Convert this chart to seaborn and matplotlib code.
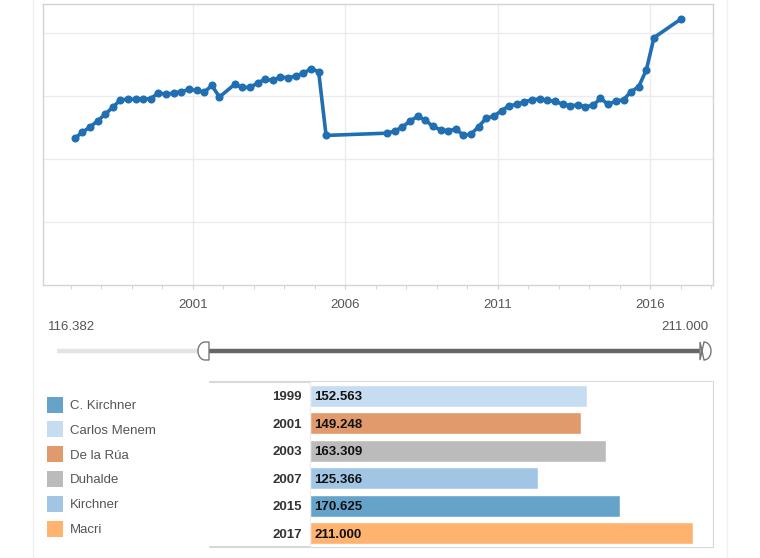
import numpy as np
import pandas as pd
import seaborn as sns
import matplotlib.pyplot as plt
import matplotlib.dates as mdates
from matplotlib.patches import Rectangle, Polygon

# quarterly index values (mid-quarter dates)
dates = [
    "1997-02-15", "1997-05-15", "1997-08-15", "1997-11-15",
    "1998-02-15", "1998-05-15", "1998-08-15", "1998-11-15",
    "1999-02-15", "1999-05-15", "1999-08-15", "1999-11-15",
    "2000-02-15", "2000-05-15", "2000-08-15", "2000-11-15",
    "2001-02-15", "2001-05-15", "2001-08-15", "2001-11-15",
    "2002-05-15", "2002-08-15", "2002-11-15",
    "2003-02-15", "2003-05-15", "2003-08-15", "2003-11-15",
    "2004-02-15", "2004-05-15", "2004-08-15", "2004-11-15",
    "2005-02-15", "2005-05-15",
    "2007-05-15", "2007-08-15", "2007-11-15",
    "2008-02-15", "2008-05-15", "2008-08-15", "2008-11-15",
    "2009-02-15", "2009-05-15", "2009-08-15", "2009-11-15",
    "2010-02-15", "2010-05-15", "2010-08-15", "2010-11-15",
    "2011-02-15", "2011-05-15", "2011-08-15", "2011-11-15",
    "2012-02-15", "2012-05-15", "2012-08-15", "2012-11-15",
    "2013-02-15", "2013-05-15", "2013-08-15", "2013-11-15",
    "2014-02-15", "2014-05-15", "2014-08-15", "2014-11-15",
    "2015-02-15", "2015-05-15", "2015-08-15", "2015-11-15",
    "2016-02-15", "2017-01-01",
]
values = [
    116.4, 121.1, 125.3, 130.1,
    135.6, 140.9, 146.8, 147.6,
    147.3, 147.6, 147.8, 152.6,
    151.3, 152.3, 153.4, 155.2,
    154.4, 152.8, 158.4, 149.2,
    159.2, 156.8, 156.8,
    160.3, 163.3, 162.4, 165.0,
    164.5, 165.8, 168.0, 171.7,
    169.3, 118.7,
    120.5, 122.1, 125.4,
    130.1, 133.8, 130.9, 125.8,
    123.2, 122.4, 123.7, 118.9,
    119.7, 125.6, 132.4, 134.0,
    138.3, 142.3, 143.3, 145.4,
    147.0, 147.6, 146.5, 145.7,
    143.6, 142.3, 142.8, 141.5,
    142.5, 148.1, 143.3, 146.0,
    147.0, 153.4, 157.3, 170.6,
    196.3, 211.0,
]
tick_years = [2001, 2006, 2011, 2016]

# end-of-term values per president
bar_years = ["1999", "2001", "2003", "2007", "2015", "2017"]
bar_values = [152.563, 149.248, 163.309, 125.366, 170.625, 211.000]
bar_pres = ["Carlos Menem", "De la Rúa", "Duhalde", "Kirchner", "C. Kirchner", "Macri"]

legend_names = ["C. Kirchner", "Carlos Menem", "De la Rúa", "Duhalde", "Kirchner", "Macri"]
legend_colors = ["#65a3ca", "#c6dcf1", "#e09a6c", "#bbbbbb", "#a1c6e5", "#feb36f"]
palette = dict(zip(legend_names, legend_colors))

range_min, range_max = 116.382, 211.000

sns.set_style("white")
plt.rcParams["font.family"] = ["Liberation Sans", "DejaVu Sans"]

df = pd.DataFrame({"date": pd.to_datetime(dates), "value": values})
bars = pd.DataFrame({"year": bar_years, "value": bar_values, "president": bar_pres})

fig = plt.figure(figsize=(7.6, 5.58), dpi=100)
W, H = 760, 558

# overlay for page decorations, slider and legend (pixel coordinates)
ov = fig.add_axes([0, 0, 1, 1])
ov.set_xlim(0, W)
ov.set_ylim(H, 0)
ov.axis("off")
for xe in (33, 727):
    ov.plot([xe, xe], [0, H], color="#f0f0f0", lw=1)

# line chart
ax = fig.add_axes([43 / W, (H - 285) / H, 670 / W, 281 / H])
sns.lineplot(data=df, x="date", y="value", marker="o", color="#1f6fb2",
             linewidth=2.6, markersize=5.8, markeredgewidth=0, ax=ax)
ax.set_ylim(0, 223)
ax.set_yticks([50, 100, 150, 200])
ax.set_yticklabels([])
ax.set_xlim(pd.Timestamp("1996-02-01"), pd.Timestamp("2018-01-22"))
ax.set_xticks([pd.Timestamp(f"{y}-01-01") for y in tick_years])
ax.set_xticklabels([str(y) for y in tick_years])
ax.xaxis.set_minor_locator(mdates.YearLocator(1))
ax.grid(True, color="#ebebeb", lw=1)
ax.tick_params(axis="y", left=False, length=0)
ax.tick_params(axis="x", which="both", bottom=True, length=3, color="#cccccc",
               labelsize=9.5, labelcolor="#555555", pad=7)
ax.set_xlabel("")
ax.set_ylabel("")
for s in ax.spines.values():
    s.set_color("#d4d4d4")
    s.set_linewidth(1)

# slider
ov.text(48, 327, f"{range_min:.3f}", fontsize=9.5, color="#555555", va="center", ha="left")
ov.text(708, 327, f"{range_max:.3f}", fontsize=9.5, color="#555555", va="center", ha="right")
ov.plot([57, 199], [351, 351], color="#e4e4e4", lw=3.2, solid_capstyle="butt")
ov.plot([208, 700], [351, 351], color="#666666", lw=3.2, solid_capstyle="butt")


def handle(x_flat, direction):
    # D-shaped slider handle, flat side at x_flat, round side toward direction
    t = np.linspace(-np.pi / 2, np.pi / 2, 30)
    cx = x_flat + direction * 4
    arc = np.column_stack([cx + direction * 7 * np.cos(t), 351 + 9 * np.sin(t)])
    pts = np.vstack([[x_flat, 342], arc[::-1] if direction > 0 else arc, [x_flat, 360]])
    ov.add_patch(Polygon(pts, closed=True, facecolor="white", edgecolor="#777777",
                         lw=1, zorder=5))


handle(209, -1)
handle(700, 1)

# legend
for i, (name, col) in enumerate(zip(legend_names, legend_colors)):
    yc = 404.5 + i * 24.8
    ov.add_patch(Rectangle((47, yc - 8), 16, 16, facecolor=col, edgecolor="none"))
    ov.text(70, yc, name, fontsize=9.5, color="#555555", va="center_baseline", ha="left")

# bar table frame
ov.plot([210, 713], [382, 382], color="#d8d8d8", lw=1.5)
ov.plot([210, 713], [547, 547], color="#d8d8d8", lw=1.5)

bx = fig.add_axes([310 / W, (H - 547) / H, 403 / W, 165 / H])
sns.barplot(data=bars, x="value", y="year", hue="president", order=bar_years,
            palette=palette, dodge=False, legend=False, width=0.8,
            saturation=1, ax=bx)
bx.set_xlim(0, 222)
bx.set_ylim(5.5, -0.5)
bx.set_xticks([])
bx.set_xlabel("")
bx.set_ylabel("")
bx.tick_params(axis="y", length=0, pad=6, labelsize=9.5, labelcolor="#333333")
for lbl in bx.get_yticklabels():
    lbl.set_fontweight("bold")
    lbl.set_verticalalignment("center_baseline")
bx.spines["top"].set_visible(False)
bx.spines["bottom"].set_visible(False)
bx.spines["left"].set_color("#ececec")
bx.spines["right"].set_color("#d8d8d8")
for i, v in enumerate(bar_values):
    bx.annotate(f"{v:.3f}", (0, i), xytext=(3, 0), textcoords="offset points",
                va="center_baseline", ha="left", fontsize=9.5, fontweight="bold",
                color="#111111")

fig.savefig("out.png", dpi=100)
